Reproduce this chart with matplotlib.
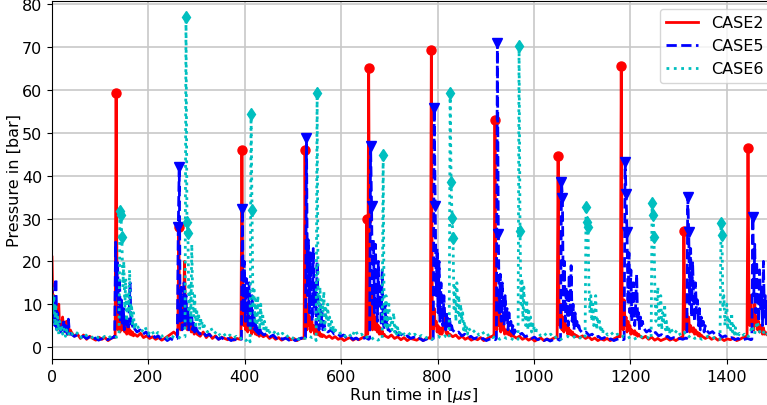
import numpy as np
import matplotlib
matplotlib.use("Agg")
import matplotlib.pyplot as plt

# ---------------- data (pressure in bar, time in microseconds) ----------------
DT = 2.0          # sampling step inside a spike segment
T_END = 1500.0

# CASE2
c2_spike_t0 = [0, 131, 261, 392, 523, 651, 785, 917, 1048, 1179, 1309, 1442]
c2_spike_vals = [
    [21, 8, 12, 6, 9, 5, 7, 10, 4, 6, 5, 7, 4, 5, 3.5, 6, 3, 4.5, 3, 4],
    [2.2, 59.2, 10, 4, 8, 3.5, 6, 9, 4, 5, 3.5, 6, 3, 4, 5, 3, 3.8, 2.8, 3.5, 2.6],
    [3, 28, 6, 4, 8, 5, 11, 20, 6, 8, 4, 7, 5, 6, 3.5, 5, 4, 3, 4, 3.5],
    [2, 46.1, 9, 5, 12, 4, 7, 3.5, 8, 4, 6, 3, 5, 3.5, 4.5, 3, 4, 2.8, 3.5, 2.5],
    [2, 45.9, 8, 4, 10, 5, 7, 3.5, 6, 4, 5, 3, 4.5, 3, 4, 2.8, 3.5, 2.5, 3, 2.4],
    [2.5, 30, 3, 65.2, 8, 5, 12, 4, 9, 6, 4, 7, 3.5, 5, 3, 4.5, 3, 3.8, 2.6, 3],
    [2, 69.4, 7, 4, 9, 5, 6, 3.5, 5, 4, 3, 4.5, 3, 4, 5.5, 7, 3.5, 3, 3.5, 2.6],
    [2.5, 52.9, 6, 4, 12, 5, 8, 3.5, 6, 4, 5, 3, 4, 3.5, 3, 4, 2.8, 3.5, 2.5, 3],
    [2.2, 44.6, 8, 5, 10, 4, 7, 3.5, 6, 4, 5, 3, 4.5, 3, 3.8, 2.8, 3.5, 2.5, 3, 2.4],
    [2.4, 65.6, 9, 4, 11, 5, 7, 3.5, 6, 4, 5, 3, 4, 3.5, 3, 3.8, 2.8, 3.3, 2.5, 3],
    [2.3, 27, 6, 4, 8, 5, 7, 3.5, 5, 4, 3.5, 4.5, 3, 4, 3, 3.5, 2.6, 3.2, 2.4, 2.8],
    [2.3, 46.5, 9, 5, 12, 6, 8, 4, 10, 5, 7, 4, 6, 3.5, 5, 4, 3, 4.5, 3, 3.5],
]
c2_base_vals = [
    [3.5, 2.5, 3, 2, 2.8, 1.8, 2.5, 2, 1.6, 2.3, 1.8, 2.2, 1.5, 2, 2.4],
    [3, 2.5, 3.2, 2.2, 2.6, 2, 2.4, 1.8, 2.2, 1.6, 2, 2.5, 3, 3.5, 2.8],
    [3, 2.5, 3.5, 2.2, 3, 2, 2.6, 1.8, 2.3, 2, 1.7, 2.2, 1.6, 2, 1.8],
    [3, 2.4, 2.8, 2, 2.5, 1.8, 2.2, 1.6, 2, 2.3, 1.7, 2, 1.5, 1.9, 2.1],
    [2.8, 2.2, 2.6, 2, 2.4, 1.8, 2.1, 1.5, 1.9, 2.2, 1.6, 2, 1.7, 2.1, 2.4],
    [2.6, 2.2, 2.8, 2, 2.4, 1.7, 2.2, 1.5, 2, 1.8, 1.6, 2.1, 1.5, 1.9, 2.2],
    [3, 2.4, 2.8, 2, 2.5, 1.8, 2.2, 1.6, 2, 1.7, 2.2, 1.5, 1.9, 2.3, 2.6],
    [2.6, 2.1, 2.5, 1.8, 2.2, 1.6, 2, 1.4, 1.8, 2.1, 1.5, 1.9, 1.6, 2, 2.3],
    [2.7, 2.2, 2.6, 2, 2.4, 1.7, 2.1, 1.5, 1.9, 1.6, 2, 1.5, 1.8, 2.2, 2.5],
    [2.6, 2.1, 2.5, 1.8, 2.3, 1.6, 2, 1.5, 1.8, 2.1, 1.6, 1.9, 1.5, 2, 2.3],
    [2.5, 2, 2.4, 1.8, 2.2, 1.6, 2, 1.5, 1.9, 1.7, 2.1, 1.5, 1.8, 2.2, 2.4],
    [3, 2.6, 3.2, 2.5, 2.8],
]

# CASE5
c5_spike_t0 = [0, 130, 260, 393, 526, 659, 791, 922, 1055, 1187, 1317, 1452]
c5_spike_vals = [
    [15, 6, 9, 5, 16, 4, 8, 5, 6, 3.5, 5, 4, 6.5, 3, 5, 4, 3, 6.5, 3.5, 3],
    [2.5, 24.5, 12, 20, 8, 16, 6, 11, 5, 9, 4, 7, 5, 6, 4, 8, 15, 5, 6, 4],
    [2, 28, 42.1, 6, 14, 4, 10, 15, 5, 12, 6, 9, 4, 8, 5, 7, 4, 6, 3.5, 5],
    [1.8, 32.2, 8, 20, 6, 16, 10, 5, 15, 7, 4, 12, 5, 8, 4, 6, 3.5, 5, 3, 4.5],
    [1.8, 48.8, 12, 25, 8, 22, 10, 6, 23, 9, 15, 5, 20, 7, 4, 10, 5, 8, 4, 6],
    [2, 47, 33, 10, 25, 8, 24, 12, 6, 20, 9, 14, 5, 18, 7, 4, 10, 5, 7, 4],
    [2, 55.8, 33, 12, 23, 8, 20, 6, 15, 9, 5, 12, 7, 4, 8, 6, 4, 7, 3.5, 5],
    [2, 71.1, 26.5, 8, 17, 6, 15, 10, 5, 12, 6, 9, 4, 8, 5, 6, 3.5, 5, 3, 4],
    [1.8, 38.6, 34.8, 8, 20, 6, 14, 9, 5, 17, 7, 19, 6, 10, 4, 8, 5, 6, 4, 5],
    [1.8, 43.1, 35.7, 26.8, 10, 22, 8, 18, 6, 12, 15, 5, 10, 17, 6, 8, 4, 7, 5, 6],
    [2, 35, 26.8, 10, 23, 7, 20, 12, 6, 15, 8, 11, 5, 9, 4, 7, 5, 6, 3.5, 5],
    [1.8, 30.3, 12, 24, 8, 20, 10, 6, 18, 9, 14, 5, 20, 7, 12, 5, 9, 6, 8, 5],
]
c5_base_vals = [
    [3, 2.5, 2.8, 2.2, 2.5, 2, 2.3, 1.8, 2.1, 1.6, 1.9, 2.2, 1.7, 2, 2.3],
    [4.5, 3.5, 4, 3, 3.5, 2.5, 3, 2.2, 2.6, 1.8, 2.2, 1.5, 2, 1.6, 2],
    [4, 3, 3.6, 2.6, 3, 2.2, 2.5, 1.8, 2.2, 1.6, 2, 1.5, 1.8, 1.6, 1.9],
    [3.5, 2.8, 3.2, 2.4, 2.8, 2, 2.4, 1.8, 2.1, 1.6, 2, 1.5, 1.8, 2.1, 1.7],
    [4.5, 3.5, 4, 3, 3.2, 2.5, 2.8, 2.1, 2.4, 1.8, 2.1, 1.6, 1.9, 2.2, 1.8],
    [4, 3.2, 3.6, 2.8, 3, 2.3, 2.6, 2, 2.3, 1.7, 2, 1.5, 1.8, 2.1, 1.8],
    [4, 3.2, 3.5, 2.6, 3, 2.2, 2.5, 1.9, 2.2, 1.7, 2, 1.5, 1.8, 2, 1.7],
    [3.5, 2.8, 3.2, 2.4, 2.7, 2, 2.3, 1.7, 2, 1.5, 1.8, 1.4, 1.7, 2, 1.6],
    [4, 3.2, 3.5, 2.7, 3, 2.2, 2.5, 1.9, 2.2, 1.6, 1.9, 1.5, 1.8, 2, 1.7],
    [4.5, 3.5, 4, 3, 3.4, 2.6, 2.9, 2.2, 2.5, 1.9, 2.2, 1.7, 2, 1.8, 2.1],
    [4, 3.2, 3.6, 2.8, 3, 2.3, 2.6, 2, 2.2, 1.7, 2, 1.5, 1.8, 2, 1.7],
    [6, 4.5, 5, 4],
]

# CASE6
c6_spike_t0 = [0, 139, 276, 411, 548, 685, 824, 967, 1106, 1243, 1386]
c6_spike_vals = [
    [14, 8, 12, 5, 10, 4, 7, 3, 6, 4, 5, 3, 4.5, 3.5, 2.5, 4, 3, 3.5, 2.5, 3],
    [2.5, 31.8, 30.8, 25.6, 14, 20, 9, 16, 6, 12, 8, 18, 7, 10, 5, 8, 4, 6, 4.5, 5],
    [2.4, 77.1, 29.1, 26.7, 8, 15, 6, 24, 10, 7, 12, 5, 9, 6, 8, 4, 7, 5, 6, 4],
    [1.2, 54.5, 32, 9, 14, 6, 11, 5, 12, 7, 4, 10, 5, 8, 4, 6, 3.5, 5, 3, 4.5],
    [1.5, 59.2, 12, 6, 14, 5, 11, 8, 13, 4, 9, 6, 10, 5, 7, 4, 6, 3.5, 5, 3],
    [1.8, 44.9, 9, 5, 12, 4, 8, 10, 5, 7, 4, 6, 8, 3.5, 5, 3, 4.5, 3, 4, 3],
    [2, 59.2, 38.6, 30.1, 25.4, 9, 14, 6, 15, 8, 12, 5, 10, 6, 8, 4, 6, 3.5, 5, 3],
    [1.8, 70.3, 27.1, 10, 16, 6, 14, 8, 5, 11, 4, 9, 5, 7, 3.5, 6, 4, 5, 3, 4],
    [2, 32.6, 29.1, 28, 14, 8, 12, 6, 10, 5, 8, 12, 4, 7, 5, 6, 3.5, 5, 3, 4],
    [1.8, 33.6, 30.9, 25.6, 12, 6, 10, 14, 5, 9, 12, 4, 8, 6, 10, 4, 6, 3.5, 5, 3],
    [1.8, 29, 26.2, 9, 12, 5, 8, 10, 4, 7, 6, 4, 8, 3.5, 5, 3, 4.5, 3, 3.5, 2.6],
]
c6_base_vals = [
    [3.2, 2.5, 3.5, 2.2, 3, 2.4, 2, 2.8, 2.2, 1.8, 2.5, 2, 2.6, 2.2, 2.4],
    [4.5, 3.5, 4.8, 3, 4, 2.6, 3.4, 2.4, 3, 2, 2.6, 2.2, 2.5, 2, 2.4],
    [5, 3.5, 4.5, 3, 3.8, 2.6, 3.2, 2.2, 2.8, 2, 2.5, 1.8, 2.3, 1.5, 2.2],
    [3.5, 2.8, 4, 2.5, 3.2, 2.2, 2.8, 2, 2.5, 1.8, 2.3, 2, 2.6, 2.2, 2.4],
    [4, 3, 3.5, 2.5, 3.2, 2.2, 4, 2.6, 3, 2, 2.5, 1.8, 2.3, 1.6, 2],
    [3.8, 2.8, 3.4, 2.5, 3, 2.2, 2.7, 2, 2.4, 1.8, 2.2, 2.5, 2, 2.6, 2.2],
    [4.5, 3.2, 4, 2.8, 3.6, 2.4, 3, 2.2, 2.6, 1.8, 2.4, 2, 2.2, 1.6, 2],
    [3.6, 2.6, 3.3, 2.4, 3, 2, 2.6, 1.8, 2.2, 2.5, 2, 2.4, 1.8, 2.2, 2],
    [3.8, 2.8, 3.5, 2.5, 3, 2.2, 2.6, 2, 2.4, 1.8, 2.2, 2.6, 2, 2.3, 1.9],
    [4.5, 3, 4, 2.6, 3.4, 2.2, 2.8, 2, 2.4, 1.8, 2.2, 2.6, 2, 2.3, 1.8],
    [3.2, 2.5, 3, 2.2, 2.8, 5, 3, 6, 3.5, 2.8, 4, 3, 2.5, 3.2, 2.6],
]

series_labels = ["CASE2", "CASE5", "CASE6"]
MARK_THRESHOLD = 25.0


def build(t0s, spikes, bases):
    t_all, v_all = [], []
    for i, (t0, sv) in enumerate(zip(t0s, spikes)):
        ts = t0 + DT * np.arange(len(sv))
        t_all.extend(ts)
        v_all.extend(sv)
        start = ts[-1] + DT
        stop = (t0s[i + 1] - DT) if i + 1 < len(t0s) else T_END
        bv = bases[i]
        t_all.extend(np.linspace(start, stop, len(bv)))
        v_all.extend(bv)
    return np.array(t_all), np.array(v_all)


series = [
    build(c2_spike_t0, c2_spike_vals, c2_base_vals),
    build(c5_spike_t0, c5_spike_vals, c5_base_vals),
    build(c6_spike_t0, c6_spike_vals, c6_base_vals),
]
styles = [
    dict(color="red", linestyle="-", marker="o"),
    dict(color="blue", linestyle="--", marker="v"),
    dict(color="c", linestyle=":", marker="d"),
]

FS = 11.5
fig = plt.figure(figsize=(7.67, 4.06), dpi=100)
ax = fig.add_axes([52 / 767, 46 / 406, 723 / 767, 358 / 406])

for (t, v), st, lab in zip(series, styles, series_labels):
    ax.plot(t, v, color=st["color"], linestyle=st["linestyle"], lw=2, label=lab)
    idx = v > MARK_THRESHOLD
    ax.plot(t[idx], v[idx], linestyle="none", marker=st["marker"],
            color=st["color"], markersize=6.5)

ax.set_xlim(0, T_END)
ax.set_ylim(-2.8, 80.8)
ax.set_xticks(np.arange(0, 1401, 200))
ax.set_yticks(np.arange(0, 81, 10))
ax.grid(True, color="#c8c8c8", lw=1.2)
ax.set_axisbelow(True)
ax.tick_params(labelsize=FS)
ax.set_xlabel(r"Run time in [$\mu s$]", fontsize=FS, labelpad=1)
ax.set_ylabel("Pressure in [bar]", fontsize=FS, labelpad=0)
ax.legend(loc="upper right", fontsize=FS, bbox_to_anchor=(1.004, 1.0))

fig.savefig("out.png", dpi=100)
